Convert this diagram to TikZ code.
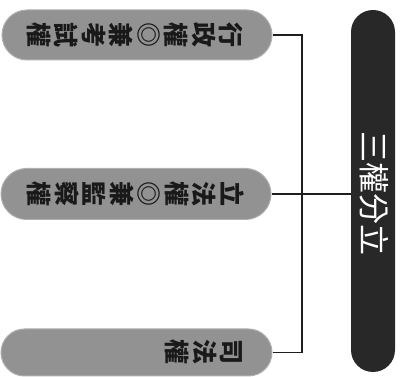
\documentclass[tikz,border=0pt]{standalone}
\usepackage{fontspec}
\newfontfamily\cjk{Noto Sans CJK TC}
\usetikzlibrary{shapes.misc}
\definecolor{pillgray}{RGB}{146,146,146}
\definecolor{pilledge}{RGB}{175,175,175}
\definecolor{darkpill}{RGB}{40,40,40}
\definecolor{linecol}{RGB}{30,30,30}
\tikzset{
  pill/.style={rounded rectangle, fill=pillgray, draw=pilledge, line width=1pt, inner sep=0pt},
  pilltext/.style={rotate=-90, align=center, inner sep=0pt, text=black!90,
    font=\cjk\bfseries\fontsize{25}{27.5}\selectfont},
  bigtext/.style={rotate=-90, inner sep=0pt, text=white, font=\cjk\fontsize{31}{32}\selectfont},
  conn/.style={draw=linecol, line width=1.2pt}
}
\begin{document}
\begin{tikzpicture}[x=1pt,y=1pt]
\useasboundingbox (0,0) rectangle (405,377);
\fill[white] (0,0) rectangle (405,377);
% pills
\node[pill, minimum width=270pt, minimum height=50pt] (p1) at (137,342) {};
\node[pill, minimum width=270pt, minimum height=51pt] (p2) at (136,183) {};
\node[pill, minimum width=271pt, minimum height=47pt] (p3) at (136.5,24.5) {};
% big pill
\node[rounded rectangle, rotate=90, fill=darkpill, minimum width=362pt, minimum height=44pt, inner sep=0pt] (big) at (373,186) {};
% texts (vertical text, turned clockwise)
\node[pilltext] (t1) at (135,342) {行\\政\\權\\◎\\兼\\考\\試\\權};
\node[pilltext] (t2) at (135.5,183) {立\\法\\權\\◎\\兼\\監\\察\\權};
\node[pilltext] (t3) at (204,25) {司\\法\\權};
\node[bigtext] (tb) at (374,183) {三權分立};
% connectors
\coordinate (jx) at (302,0);
\draw[conn] (p1.east) -- (p1.east -| jx) -- (p3.east -| jx) -- (p3.east);
\draw[conn] (p2.east) -- (p2.east -| big.north);
\end{tikzpicture}
\end{document}
